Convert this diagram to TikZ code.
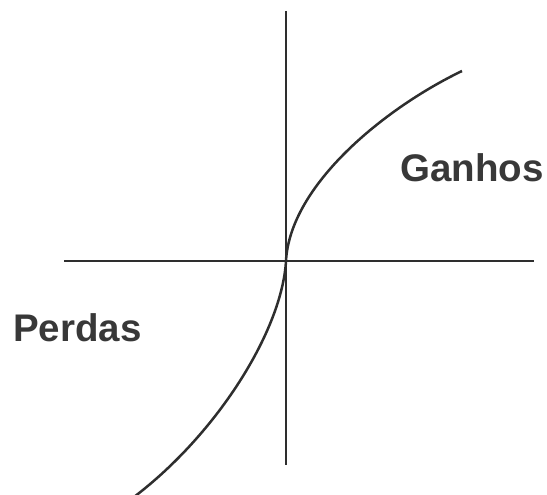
\documentclass[tikz,border=0pt]{standalone}
\usepackage{fontspec}
\setmainfont{Liberation Sans}
\definecolor{ink}{HTML}{2E2E2E}
\begin{document}
\begin{tikzpicture}[x=1pt,y=-1pt,
  axis/.style={draw=ink,line width=2.3pt},
  curve/.style={draw=ink,line width=2.5pt},
  lbl/.style={text=ink!95!white,font=\fontsize{38.5}{42}\selectfont\bfseries,inner sep=0pt,anchor=base west}]
\useasboundingbox (0,0) rectangle (547,495);
\coordinate (vtop) at (286,11);
\coordinate (vbot) at (286,465);
\coordinate (hl) at (64,261);
\coordinate (hr) at (534,261);
\coordinate (o) at (286,261);
\coordinate (cstart) at (134,497);
\coordinate (cend) at (462,71);
\draw[axis] (vtop) -- (vbot);
\draw[axis] (hl) -- (hr);
\draw[curve] (cstart) .. controls (218,433) and (282,330) .. (o)
  .. controls (290,185) and (385,108) .. (cend);
\node[lbl] (gain) at (400,182) {Ganhos};
\node[lbl] (loss) at (13,341) {Perdas};
\end{tikzpicture}
\end{document}
